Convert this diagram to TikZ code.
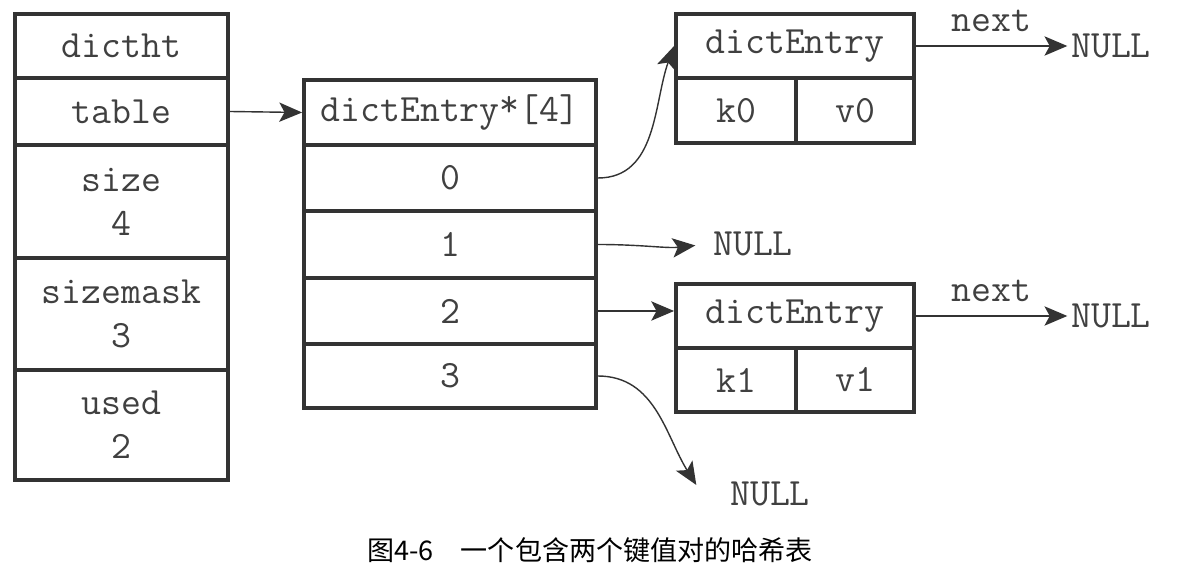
\documentclass[tikz,border=0pt]{standalone}
\usepackage{fontspec}
\usepackage{tikz}
\usetikzlibrary{arrows.meta}
\newfontfamily\cjk{Noto Sans CJK SC}

\begin{document}
\begin{tikzpicture}[x=0.02cm,y=-0.02cm,
	cell/.style={draw=black!80,line width=2.2pt,inner sep=0pt,align=center,
		text=black!75,font=\ttfamily\fontsize{22}{25}\selectfont},
	ptr/.style={draw=black!80,line width=0.8pt,-{Stealth[length=13pt,width=11pt,inset=3pt]}},
	nil/.style={inner sep=2pt,text=black!75,font=\ttfamily\fontsize{22}{25}\selectfont}]
		\useasboundingbox (0,0) rectangle (1178,574);
		
		% dictht
		\node[cell,minimum width=4.26cm,minimum height=1.28cm] (ht)   at (121.5,46)  {dictht};
		\node[cell,minimum width=4.26cm,minimum height=1.34cm] (tbl)  at (121.5,111.5) {table};
		\node[cell,minimum width=4.26cm,minimum height=2.26cm] (size) at (121.5,201.5) {size\\4};
		\node[cell,minimum width=4.26cm,minimum height=2.24cm] (mask) at (121.5,314)  {sizemask\\3};
		\node[cell,minimum width=4.26cm,minimum height=2.2cm]  (used) at (121.5,425)  {used\\2};
		
		% Array
		\node[cell,minimum width=5.84cm,minimum height=1.3cm]  (arr) at (450,112.5) {dictEntry\raisebox{3pt}{*}[4]};
		\node[cell,minimum width=5.84cm,minimum height=1.32cm] (e0)  at (450,178)   {0};
		\node[cell,minimum width=5.84cm,minimum height=1.34cm] (e1)  at (450,244.5) {1};
		\node[cell,minimum width=5.84cm,minimum height=1.32cm] (e2)  at (450,311)   {2};
		\node[cell,minimum width=5.84cm,minimum height=1.28cm] (e3)  at (450,376)   {3};
		
		% Eintraege
		\node[cell,minimum width=4.76cm,minimum height=1.28cm] (de0) at (795,46)    {dictEntry};
		\node[cell,minimum width=2.4cm,minimum height=1.3cm]   (k0)  at (736,110.5) {k0};
		\node[cell,minimum width=2.36cm,minimum height=1.3cm]  (v0)  at (855,110.5) {v0};
		
		\node[cell,minimum width=4.76cm,minimum height=1.28cm] (de1) at (795,316)   {dictEntry};
		\node[cell,minimum width=2.4cm,minimum height=1.28cm]  (k1)  at (736,380)   {k1};
		\node[cell,minimum width=2.36cm,minimum height=1.28cm] (v1)  at (855,380)   {v1};
		
		% NULL
		\node[nil] (null0) at (1111,46)  {NULL};
		\node[nil] (null1) at (753,244)  {NULL};
		\node[nil] (null2) at (1111,316) {NULL};
		\node[nil] (null3) at (770,494)  {NULL};
		
		% Zeiger
		\draw[ptr] (tbl.east) -- (arr.west);
		\draw[ptr] (e0.east) to[out=0,in=250] (de0.west);
		\draw[ptr,shorten >=8pt] (e1.east) to[out=0,in=186] (null1.west);
		\draw[ptr] (e2.east) -- (e2.east -| de1.west);
		\draw[ptr] (e3.east) to[out=0,in=122] ([shift={(-30,-9)}]null3.west);
		\draw[ptr] (de0.east) -- (null0.west) node[nil,midway,above=6pt] {next};
		\draw[ptr] (de1.east) -- (null2.west) node[nil,midway,above=6pt] {next};
		
		% Beschriftung
		\node[font=\cjk\fontsize{15.4}{18}\selectfont] (cap) at (590,550) {图4-6\quad 一个包含两个键值对的哈希表};
	\end{tikzpicture}
\end{document}
